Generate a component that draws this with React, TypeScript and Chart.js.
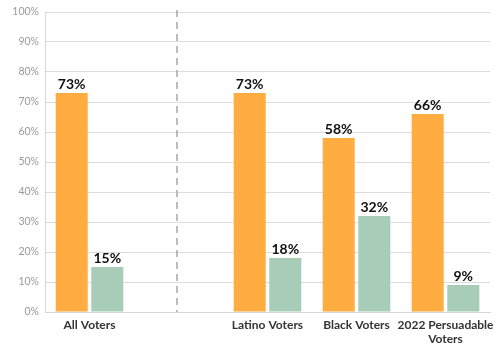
import React, { useEffect, useRef } from "react";
import { Chart, registerables } from "chart.js";

Chart.register(...registerables);

const categories: (string | string[])[] = ["All Voters", "", "Latino Voters", "Black Voters", ["2022 Persuadable", "Voters"]];
const seriesA: (number | null)[] = [73, null, 73, 58, 66];
const seriesB: (number | null)[] = [15, null, 18, 32, 9];
const yTicks = [0, 10, 20, 30, 40, 50, 60, 70, 80, 90, 100];

const ORANGE = "#FFAC40";
const GREEN = "#A7CDB8";
const FONT = "Lato, 'Open Sans', sans-serif";

const labelPlugin = {
  id: "valueLabels",
  afterDatasetsDraw(chart: any) {
    const ctx = chart.ctx;
    ctx.save();
    ctx.font = `bold 14px ${FONT}`;
    ctx.fillStyle = "#111";
    ctx.textAlign = "center";
    ctx.textBaseline = "alphabetic";
    chart.data.datasets.forEach((ds: any, i: number) => {
      const meta = chart.getDatasetMeta(i);
      meta.data.forEach((bar: any, j: number) => {
        const v = ds.data[j];
        if (v == null) return;
        ctx.fillText(`${v}%`, bar.x, bar.y - 4);
      });
    });
    ctx.restore();
  },
};

const dividerPlugin = {
  id: "divider",
  beforeDatasetsDraw(chart: any) {
    const ctx = chart.ctx;
    const x = chart.scales.x.getPixelForValue(1) - 1.5;
    const { top, bottom } = chart.chartArea;
    ctx.save();
    ctx.strokeStyle = "#a8a8a8";
    ctx.lineWidth = 1.5;
    ctx.setLineDash([7, 5]);
    ctx.beginPath();
    ctx.moveTo(x, top - 2);
    ctx.lineTo(x, bottom);
    ctx.stroke();
    ctx.restore();
  },
};

export default function App() {
  const ref = useRef<HTMLCanvasElement>(null);
  useEffect(() => {
    document.body.style.margin = "0";
    const chart = new Chart(ref.current!, {
      type: "bar",
      data: {
        labels: categories,
        datasets: [
          { data: seriesA, backgroundColor: ORANGE },
          { data: seriesB, backgroundColor: GREEN },
        ],
      },
      options: {
        animation: false,
        responsive: false,
        maintainAspectRatio: false,
        layout: { padding: { top: 12, right: 5, left: 0, bottom: 0 } },
        plugins: { legend: { display: false }, tooltip: { enabled: false } },
        datasets: { bar: { categoryPercentage: 0.8, barPercentage: 0.9 } },
        scales: {
          x: {
            grid: { display: false, drawTicks: false },
            border: { display: true, color: "#d6d6d6", width: 1 },
            ticks: {
              color: "#333",
              font: { family: FONT, size: 12, weight: "bold" },
              padding: 6,
              maxRotation: 0,
              autoSkip: false,
            },
            afterFit(scale: any) {
              scale.height = 33;
              scale.paddingLeft = 0;
              scale.paddingRight = 0;
            },
          },
          y: {
            min: 0,
            max: 100,
            afterBuildTicks(scale: any) {
              scale.ticks = yTicks.map((v) => ({ value: v }));
            },
            grid: { color: "#dcdcdc", drawTicks: false, lineWidth: 1 },
            border: { display: true, color: "#d6d6d6", width: 1 },
            ticks: {
              color: "#9a9a9a",
              font: { family: FONT, size: 10.5 },
              padding: 6,
              callback: (v: any) => `${v}%`,
            },
            afterFit(scale: any) {
              scale.width = 45;
              scale.paddingTop = 0;
              scale.paddingBottom = 0;
            },
          },
        },
      },
      plugins: [dividerPlugin, labelPlugin],
    });
    return () => chart.destroy();
  }, []);
  return (
    <div style={{ width: 495, height: 345 }}>
      <canvas ref={ref} width={495} height={345} style={{ display: "block" }} />
    </div>
  );
}
